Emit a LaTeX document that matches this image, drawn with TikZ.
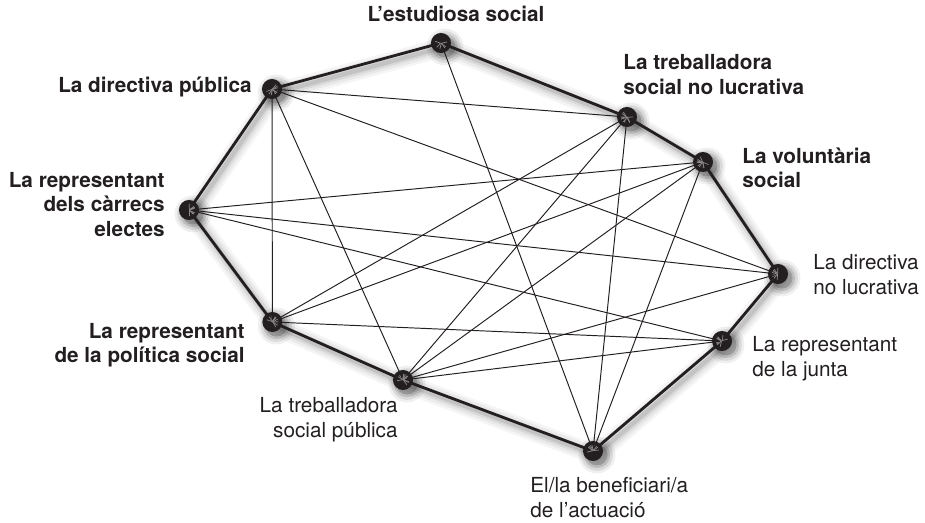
\documentclass[tikz,border=0pt]{standalone}
\usepackage{fontspec}
\setmainfont{TeX Gyre Heros}
\usepackage{tikz}
\usepackage{xcolor}
\usetikzlibrary{arrows.meta,backgrounds}
\definecolor{ink}{HTML}{231F20}
\definecolor{tipc}{HTML}{8A8889}

\begin{document}
\begin{tikzpicture}[
  x=0.02cm, y=-0.02cm,
  every node/.style={text=ink},
  dot/.style={circle, fill=ink, inner sep=0pt, minimum size=11.4pt},
  lbl/.style={font=\fontsize{11.8}{13.9}\selectfont, inner sep=0pt},
  lblb/.style={font=\fontsize{11.8}{13.9}\selectfont\bfseries, inner sep=0pt},
  tips/.style={{Straight Barb[length=2.6pt,width=3.6pt,color=tipc,line width=0.4pt]}-{Straight Barb[length=2.6pt,width=3.6pt,color=tipc,line width=0.4pt]}},
  ring/.style={draw=ink, line width=1.6pt, line cap=round, tips},
  spoke/.style={draw=ink, line width=0.55pt, tips}
]

\useasboundingbox (0,0) rectangle (925,523);

% Dots
\node[dot] (e) at (441,43) {};
\node[dot] (dp) at (272,89) {};
\node[dot] (tnl) at (627,117) {};
\node[dot] (v) at (703,162) {};
\node[dot] (rc) at (189,210) {};
\node[dot] (dnl) at (778,274) {};
\node[dot] (rps) at (272.4,322) {};
\node[dot] (rj) at (722,341) {};
\node[dot] (tsp) at (403,380) {};
\node[dot] (b) at (593,451) {};

% Labels
\node[lblb, anchor=base] (e-l) at (456,22) {L'estudiosa social};
\node[lblb, anchor=base east] (dp-l) at (252,93) {La directiva pública};
\node[lblb, anchor=west, align=left] (tnl-l) at (623,74.5) {La treballadora\\social no lucrativa};
\node[lblb, anchor=west, align=left] (v-l) at (742,168) {La voluntària\\social};
\node[lblb, anchor=east, align=right] (rc-l) at (165,204.5) {La representant\\dels càrrecs\\electes};
\node[lbl, anchor=west, align=left] (dnl-l) at (813,274.5) {La directiva\\no lucrativa};
\node[lblb, anchor=east, align=right] (rps-l) at (245,345) {La representant\\de la política social};
\node[lbl, anchor=west, align=left] (rj-l) at (752,358.5) {La representant\\de la junta};
\node[lbl, anchor=east, align=right] (tsp-l) at (398,419.5) {La treballadora\\social pública};
\node[lbl, anchor=west, align=left] (b-l) at (530,497.5) {El/la beneficiari/a\\de l'actuació};

% Soft shadows
\begin{scope}[on background layer]
  \foreach \w/\o in {11/0.04,8/0.05,5/0.07,2.5/0.1}
    \draw[line width=\w pt, black, opacity=\o, line join=round, transform canvas={shift={(3,4)}}]
      (e.center) -- (tnl.center) -- (v.center) -- (dnl.center) -- (rj.center) -- (b.center)
      -- (tsp.center) -- (rps.center) -- (rc.center) -- (dp.center) -- cycle;
  \foreach \n in {e,dp,tnl,v,rc,dnl,rps,rj,tsp,b}
    \foreach \r/\o in {10.5/0.06,9/0.09,7.5/0.13,6/0.18}
      \fill[black, opacity=\o, transform canvas={shift={(4,4)}}] (\n) circle (\r pt);
\end{scope}

% Outer ring
\foreach \p/\q in {e/tnl,tnl/v,v/dnl,dnl/rj,rj/b,b/tsp,tsp/rps,rps/rc,rc/dp,dp/e}
  \draw[ring] (\p.center) -- (\q.center);

% Inner links
\foreach \p/\q in {dp/tnl,dp/dnl,dp/rps,dp/tsp,e/b,tnl/rps,tnl/tsp,tnl/b,v/rc,v/rps,v/tsp,v/b,rc/dnl,rc/rj,rps/rj,tsp/dnl,tsp/rj}
  \draw[spoke] (\p.center) -- (\q.center);

\end{tikzpicture}
\end{document}
